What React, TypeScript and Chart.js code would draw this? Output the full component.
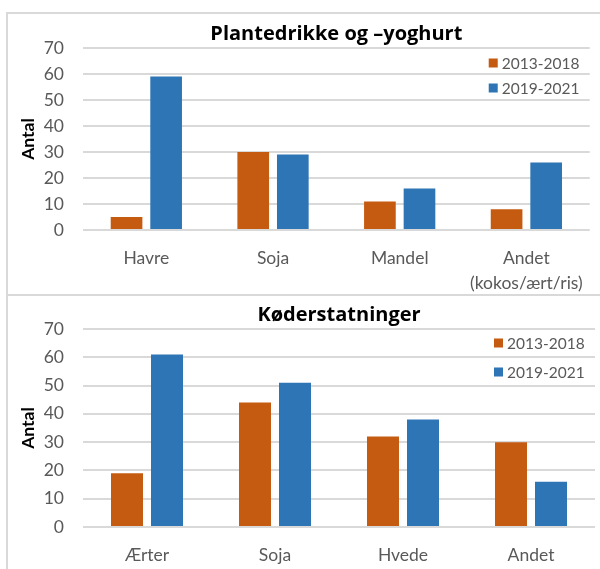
import React, { useEffect, useRef } from "react";
import { Chart, registerables } from "chart.js";

Chart.register(...registerables);

// ---- data ----
const seriesLabels = ["2013-2018", "2019-2021"];

const drinkTitle = "Plantedrikke og –yoghurt";
const drinkCategories: (string | string[])[] = ["Havre", "Soja", "Mandel", ["Andet", "(kokos/ært/ris)"]];
const drink2013 = [5, 30, 11, 8];
const drink2019 = [59, 29, 16, 26];

const meatTitle = "Køderstatninger";
const meatCategories: (string | string[])[] = ["Ærter", "Soja", "Hvede", "Andet"];
const meat2013 = [19, 44, 32, 30];
const meat2019 = [61, 51, 38, 16];

const yAxisTitle = "Antal";
const yMin = 0;
const yMax = 70;
const yStep = 10;

// ---- styles ----
const ORANGE = "#C55A11";
const BLUE = "#2E75B6";
const GREY = "#595959";
const GRID = "#D9D9D9";
const FONT = "Lato, 'Open Sans', sans-serif";
const TITLE_FONT = "'Open Sans', Lato, sans-serif";

const cornerLegend = {
  id: "cornerLegend",
  afterDraw(chart: any, _args: any, opts: any) {
    const { ctx, chartArea } = chart;
    ctx.save();
    ctx.font = `${opts.size}px ${FONT}`;
    ctx.textBaseline = "middle";
    ctx.textAlign = "left";
    chart.data.datasets.forEach((ds: any, i: number) => {
      const y = chartArea.top + opts.rows[i];
      const x = chartArea.right - opts.fromRight;
      ctx.fillStyle = ds.backgroundColor;
      ctx.fillRect(x, y - opts.box / 2, opts.box, opts.box);
      ctx.fillStyle = GREY;
      ctx.fillText(ds.label, x + opts.box + 4, y + 1);
    });
    ctx.restore();
  },
};

type PanelProps = {
  title: string;
  labels: (string | string[])[];
  first: number[];
  second: number[];
  height: number;
  xAxisHeight: number;
  legendRows: number[];
  top: number;
  titlePad: { top: number; bottom: number };
};

function BarPanel({ title, labels, first, second, height, xAxisHeight, legendRows, top, titlePad }: PanelProps) {
  const ref = useRef<HTMLCanvasElement>(null);
  useEffect(() => {
    const chart = new Chart(ref.current as HTMLCanvasElement, {
      type: "bar",
      data: {
        labels,
        datasets: [
          { label: seriesLabels[0], data: first, backgroundColor: ORANGE, categoryPercentage: 0.625, barPercentage: 0.8 },
          { label: seriesLabels[1], data: second, backgroundColor: BLUE, categoryPercentage: 0.625, barPercentage: 0.8 },
        ],
      },
      options: {
        animation: false,
        responsive: false,
        maintainAspectRatio: false,
        layout: { padding: { left: 6, right: 5, top: 0, bottom: 0 } },
        plugins: {
          legend: { display: false },
          tooltip: { enabled: false },
          title: {
            display: true,
            text: title,
            fullSize: false,
            color: "#000",
            font: { family: TITLE_FONT, size: 20, weight: "bold", lineHeight: 1.2 },
            padding: titlePad,
          },
          cornerLegend: { rows: legendRows, fromRight: 101, box: 9, size: 15.5 },
        } as any,
        scales: {
          x: {
            grid: { display: false, drawTicks: false },
            border: { display: false },
            ticks: {
              color: GREY,
              font: { family: FONT, size: 17.5, lineHeight: 25 / 17.5 },
              padding: 16,
              maxRotation: 0,
              autoSkip: false,
            },
            afterFit: (s: any) => {
              s.height = xAxisHeight;
            },
          },
          y: {
            min: yMin,
            max: yMax,
            ticks: { stepSize: yStep, color: GREY, font: { family: FONT, size: 17.5 }, padding: 19 },
            grid: { color: GRID, lineWidth: 2, drawTicks: false },
            border: { display: false },
            title: {
              display: true,
              text: yAxisTitle,
              color: "#000",
              font: { family: FONT, size: 17.5, weight: "bold" },
            },
            afterFit: (s: any) => {
              s.width = 69;
            },
          },
        },
      },
      plugins: [cornerLegend],
    } as any);
    return () => chart.destroy();
  }, []);
  return (
    <canvas
      ref={ref}
      width={592}
      height={height}
      style={{ position: "absolute", left: 8, top, width: 592, height, display: "block" }}
    />
  );
}

export default function App() {
  return (
    <div style={{ position: "absolute", left: 0, top: 0, width: 600, height: 569, overflow: "hidden", background: "#fff" }}>
      <div
        style={{
          position: "absolute",
          left: 6,
          top: 12,
          width: 594,
          height: 284,
          boxSizing: "border-box",
          borderTop: `2px solid ${GRID}`,
          borderLeft: `2px solid ${GRID}`,
          borderBottom: `2px solid ${GRID}`,
        }}
      />
      <div
        style={{
          position: "absolute",
          left: 6,
          top: 296,
          width: 594,
          height: 273,
          boxSizing: "border-box",
          borderLeft: `2px solid ${GRID}`,
        }}
      />
      <BarPanel
        title={drinkTitle}
        labels={drinkCategories}
        first={drink2013}
        second={drink2019}
        height={280}
        top={14}
        xAxisHeight={64}
        legendRows={[15, 40]}
        titlePad={{ top: 8, bottom: 2 }}
      />
      <BarPanel
        title={meatTitle}
        labels={meatCategories}
        first={meat2013}
        second={meat2019}
        height={272}
        top={296}
        xAxisHeight={41}
        legendRows={[14, 43]}
        titlePad={{ top: 7, bottom: 2 }}
      />
    </div>
  );
}
